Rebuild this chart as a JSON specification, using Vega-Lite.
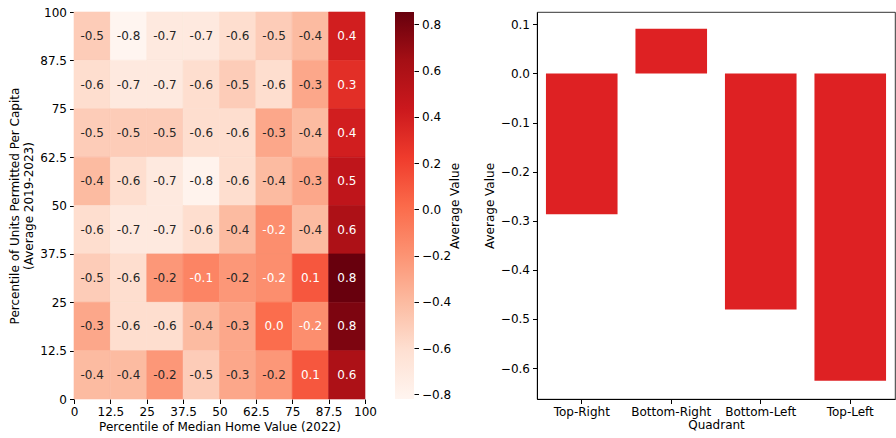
{
  "$schema": "https://vega.github.io/schema/vega-lite/v6.json",
  "padding": {"left": 8, "top": 6, "right": 0, "bottom": 5},
  "config": {
    "font": "DejaVu Sans",
    "view": {"stroke": null},
    "axis": {"labelFontSize": 12, "titleFontSize": 12, "labelColor": "#000", "titleColor": "#000", "tickColor": "#000", "domainColor": "#000", "titleFontWeight": "normal", "grid": false, "tickSize": 4.5, "labelPadding": 3, "titlePadding": 4},
    "axisQuantitative": {"labelOverlap": false}
  },
  "spacing": 21,
  "hconcat": [
    {
      "spacing": 18,
      "hconcat": [
        {
          "width": 291,
          "height": 387,
          "data": {"values": [
            {"x0": 0, "x1": 12.5, "y0": 87.5, "y1": 100, "value": -0.5},
            {"x0": 12.5, "x1": 25, "y0": 87.5, "y1": 100, "value": -0.82},
            {"x0": 25, "x1": 37.5, "y0": 87.5, "y1": 100, "value": -0.7},
            {"x0": 37.5, "x1": 50, "y0": 87.5, "y1": 100, "value": -0.7},
            {"x0": 50, "x1": 62.5, "y0": 87.5, "y1": 100, "value": -0.6},
            {"x0": 62.5, "x1": 75, "y0": 87.5, "y1": 100, "value": -0.5},
            {"x0": 75, "x1": 87.5, "y0": 87.5, "y1": 100, "value": -0.4},
            {"x0": 87.5, "x1": 100, "y0": 87.5, "y1": 100, "value": 0.4},
            {"x0": 0, "x1": 12.5, "y0": 75, "y1": 87.5, "value": -0.6},
            {"x0": 12.5, "x1": 25, "y0": 75, "y1": 87.5, "value": -0.7},
            {"x0": 25, "x1": 37.5, "y0": 75, "y1": 87.5, "value": -0.7},
            {"x0": 37.5, "x1": 50, "y0": 75, "y1": 87.5, "value": -0.6},
            {"x0": 50, "x1": 62.5, "y0": 75, "y1": 87.5, "value": -0.5},
            {"x0": 62.5, "x1": 75, "y0": 75, "y1": 87.5, "value": -0.6},
            {"x0": 75, "x1": 87.5, "y0": 75, "y1": 87.5, "value": -0.3},
            {"x0": 87.5, "x1": 100, "y0": 75, "y1": 87.5, "value": 0.3},
            {"x0": 0, "x1": 12.5, "y0": 62.5, "y1": 75, "value": -0.5},
            {"x0": 12.5, "x1": 25, "y0": 62.5, "y1": 75, "value": -0.5},
            {"x0": 25, "x1": 37.5, "y0": 62.5, "y1": 75, "value": -0.5},
            {"x0": 37.5, "x1": 50, "y0": 62.5, "y1": 75, "value": -0.6},
            {"x0": 50, "x1": 62.5, "y0": 62.5, "y1": 75, "value": -0.6},
            {"x0": 62.5, "x1": 75, "y0": 62.5, "y1": 75, "value": -0.3},
            {"x0": 75, "x1": 87.5, "y0": 62.5, "y1": 75, "value": -0.4},
            {"x0": 87.5, "x1": 100, "y0": 62.5, "y1": 75, "value": 0.4},
            {"x0": 0, "x1": 12.5, "y0": 50, "y1": 62.5, "value": -0.4},
            {"x0": 12.5, "x1": 25, "y0": 50, "y1": 62.5, "value": -0.6},
            {"x0": 25, "x1": 37.5, "y0": 50, "y1": 62.5, "value": -0.7},
            {"x0": 37.5, "x1": 50, "y0": 50, "y1": 62.5, "value": -0.8},
            {"x0": 50, "x1": 62.5, "y0": 50, "y1": 62.5, "value": -0.6},
            {"x0": 62.5, "x1": 75, "y0": 50, "y1": 62.5, "value": -0.4},
            {"x0": 75, "x1": 87.5, "y0": 50, "y1": 62.5, "value": -0.3},
            {"x0": 87.5, "x1": 100, "y0": 50, "y1": 62.5, "value": 0.5},
            {"x0": 0, "x1": 12.5, "y0": 37.5, "y1": 50, "value": -0.6},
            {"x0": 12.5, "x1": 25, "y0": 37.5, "y1": 50, "value": -0.7},
            {"x0": 25, "x1": 37.5, "y0": 37.5, "y1": 50, "value": -0.7},
            {"x0": 37.5, "x1": 50, "y0": 37.5, "y1": 50, "value": -0.6},
            {"x0": 50, "x1": 62.5, "y0": 37.5, "y1": 50, "value": -0.4},
            {"x0": 62.5, "x1": 75, "y0": 37.5, "y1": 50, "value": -0.17},
            {"x0": 75, "x1": 87.5, "y0": 37.5, "y1": 50, "value": -0.4},
            {"x0": 87.5, "x1": 100, "y0": 37.5, "y1": 50, "value": 0.6},
            {"x0": 0, "x1": 12.5, "y0": 25, "y1": 37.5, "value": -0.5},
            {"x0": 12.5, "x1": 25, "y0": 25, "y1": 37.5, "value": -0.6},
            {"x0": 25, "x1": 37.5, "y0": 25, "y1": 37.5, "value": -0.22},
            {"x0": 37.5, "x1": 50, "y0": 25, "y1": 37.5, "value": -0.12},
            {"x0": 50, "x1": 62.5, "y0": 25, "y1": 37.5, "value": -0.22},
            {"x0": 62.5, "x1": 75, "y0": 25, "y1": 37.5, "value": -0.17},
            {"x0": 75, "x1": 87.5, "y0": 25, "y1": 37.5, "value": 0.1},
            {"x0": 87.5, "x1": 100, "y0": 25, "y1": 37.5, "value": 0.85},
            {"x0": 0, "x1": 12.5, "y0": 12.5, "y1": 25, "value": -0.3},
            {"x0": 12.5, "x1": 25, "y0": 12.5, "y1": 25, "value": -0.6},
            {"x0": 25, "x1": 37.5, "y0": 12.5, "y1": 25, "value": -0.6},
            {"x0": 37.5, "x1": 50, "y0": 12.5, "y1": 25, "value": -0.4},
            {"x0": 50, "x1": 62.5, "y0": 12.5, "y1": 25, "value": -0.3},
            {"x0": 62.5, "x1": 75, "y0": 12.5, "y1": 25, "value": 0.0},
            {"x0": 75, "x1": 87.5, "y0": 12.5, "y1": 25, "value": -0.17},
            {"x0": 87.5, "x1": 100, "y0": 12.5, "y1": 25, "value": 0.78},
            {"x0": 0, "x1": 12.5, "y0": 0, "y1": 12.5, "value": -0.4},
            {"x0": 12.5, "x1": 25, "y0": 0, "y1": 12.5, "value": -0.4},
            {"x0": 25, "x1": 37.5, "y0": 0, "y1": 12.5, "value": -0.22},
            {"x0": 37.5, "x1": 50, "y0": 0, "y1": 12.5, "value": -0.5},
            {"x0": 50, "x1": 62.5, "y0": 0, "y1": 12.5, "value": -0.3},
            {"x0": 62.5, "x1": 75, "y0": 0, "y1": 12.5, "value": -0.22},
            {"x0": 75, "x1": 87.5, "y0": 0, "y1": 12.5, "value": 0.1},
            {"x0": 87.5, "x1": 100, "y0": 0, "y1": 12.5, "value": 0.6}
          ]},
          "encoding": {
            "x": {"field": "x0", "type": "quantitative", "scale": {"domain": [0, 100], "nice": false},
                  "axis": {"values": [0, 12.5, 25, 37.5, 50, 62.5, 75, 87.5, 100], "labelExpr": "'' + datum.value", "labelOverlap": false, "domain": false, "labelFlush": false, "title": "Percentile of Median Home Value (2022)"}},
            "y": {"field": "y0", "type": "quantitative", "scale": {"domain": [0, 100], "nice": false},
                  "axis": {"values": [0, 12.5, 25, 37.5, 50, 62.5, 75, 87.5, 100], "labelExpr": "'' + datum.value", "labelOverlap": false, "domain": false, "labelFlush": false, "title": ["Percentile of Units Permitted Per Capita", "(Average 2019-2023)"]}}
          },
          "layer": [
            {
              "mark": {"type": "rect", "strokeWidth": 0.6},
              "encoding": {
                "x2": {"field": "x1"},
                "y2": {"field": "y1"},
                "color": {"field": "value", "type": "quantitative",
                          "scale": {"domain": [-0.82, -0.610875, -0.40175, -0.192625, 0.0165, 0.225625, 0.43475, 0.643875, 0.853],
                                    "range": ["#fff5f0", "#fee0d2", "#fcbba1", "#fc9272", "#fb6a4a", "#ef3b2c", "#cb181d", "#a50f15", "#67000d"],
                                    "interpolate": "rgb"},
                          "legend": null},
                "stroke": {"field": "value", "type": "quantitative",
                          "scale": {"domain": [-0.82, -0.610875, -0.40175, -0.192625, 0.0165, 0.225625, 0.43475, 0.643875, 0.853],
                                    "range": ["#fff5f0", "#fee0d2", "#fcbba1", "#fc9272", "#fb6a4a", "#ef3b2c", "#cb181d", "#a50f15", "#67000d"],
                                    "interpolate": "rgb"},
                          "legend": null}
              }
            },
            {
              "mark": {"type": "text", "fontSize": 12, "dx": 18.19, "dy": -24.2, "baseline": "middle", "align": "center", "text": {"expr": "replace(format(datum.value, '.1f'), '\u2212', '-')"}},
              "encoding": {
                "color": {"condition": {"test": "datum.value > -0.19", "value": "white"}, "value": "#262626"}
              }
            }
          ]
        },
        {
          "width": 19,
          "height": 387,
          "data": {"values": [{"lo": -0.82, "hi": 0.853}]},
          "mark": {"type": "rect", "color": {"gradient": "linear", "x1": 0, "y1": 1, "x2": 0, "y2": 0,
            "stops": [
              {"offset": 0, "color": "#fff5f0"},
              {"offset": 0.125, "color": "#fee0d2"},
              {"offset": 0.25, "color": "#fcbba1"},
              {"offset": 0.375, "color": "#fc9272"},
              {"offset": 0.5, "color": "#fb6a4a"},
              {"offset": 0.625, "color": "#ef3b2c"},
              {"offset": 0.75, "color": "#cb181d"},
              {"offset": 0.875, "color": "#a50f15"},
              {"offset": 1, "color": "#67000d"}
            ]}},
          "encoding": {
            "y": {"field": "lo", "type": "quantitative", "scale": {"domain": [-0.82, 0.853], "nice": false, "zero": false},
                  "axis": {"orient": "right", "values": [-0.8, -0.6, -0.4, -0.2, 0, 0.2, 0.4, 0.6, 0.8], "format": ".1f", "domain": false, "title": "Average Value", "titleAngle": 270, "titleBaseline": "top", "titlePadding": -1}},
            "y2": {"field": "hi"}
          }
        }
      ]
    },
    {
      "width": 358,
      "height": 387,
      "view": {"stroke": "black", "strokeWidth": 0.8},
      "data": {"values": [
        {"quadrant": "Top-Right", "avg": -0.287},
        {"quadrant": "Bottom-Right", "avg": 0.091},
        {"quadrant": "Bottom-Left", "avg": -0.481},
        {"quadrant": "Top-Left", "avg": -0.626}
      ]},
      "mark": {"type": "bar", "color": "#de2123"},
      "encoding": {
        "x": {"field": "quadrant", "type": "nominal", "sort": null, "scale": {"paddingInner": 0.2, "paddingOuter": 0.1},
              "axis": {"labelAngle": 0, "title": "Quadrant", "titlePadding": 2}},
        "y": {"field": "avg", "type": "quantitative", "scale": {"domain": [-0.663, 0.125], "nice": false, "zero": false},
              "axis": {"values": [-0.6, -0.5, -0.4, -0.3, -0.2, -0.1, 0, 0.1], "format": ".1f", "title": "Average Value"}},
        "y2": {"datum": 0}
      }
    }
  ]
}
